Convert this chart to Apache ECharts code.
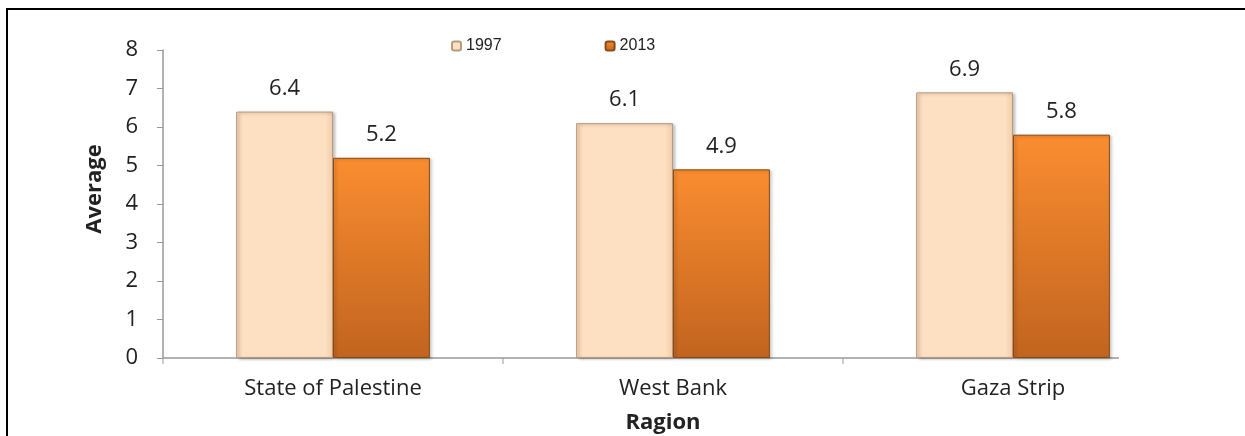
<!DOCTYPE html>
<html><head><meta charset="utf-8">
<script src="https://cdn.jsdelivr.net/npm/echarts@6/dist/echarts.min.js"></script>
<style>html,body{margin:0;padding:0;background:#fff}#c{width:1245px;height:436px}</style>
</head><body><div id="c"></div>
<script>
const categories = ['State of Palestine', 'West Bank', 'Gaza Strip'];
const seriesNames = ['1997', '2013'];
const values1997 = [6.4, 6.1, 6.9];
const values2013 = [5.2, 4.9, 5.8];
const yTicks = [0, 1, 2, 3, 4, 5, 6, 7, 8];

const chart = echarts.init(document.getElementById('c'));
const font = '"Open Sans", sans-serif';
const fs = 22;
const lbl = {show: true, position: 'top', distance: 12, fontFamily: font, fontSize: fs, color: '#222'};
chart.setOption({
  animation: false,
  legend: {
    top: 33, left: 446, itemWidth: 9, itemHeight: 9, itemGap: 103,
    textStyle: {fontFamily: 'Liberation Sans, Arial', fontSize: 16, color: '#222'},
    data: seriesNames
  },
  grid: {left: 163, right: 62, top: 50, bottom: 78, outerBoundsMode: 'none', containLabel: false},
  xAxis: {
    type: 'category', data: categories,
    name: 'Ragion', nameLocation: 'middle', nameGap: 54,
    nameTextStyle: {fontFamily: font, fontSize: fs, fontWeight: 'bold', color: '#222', padding: [0, 0, 0, -20]},
    axisLine: {show: false},
    axisTick: {show: false},
    axisLabel: {fontFamily: font, fontSize: fs, color: '#222', margin: 20}
  },
  yAxis: {
    type: 'value', min: 0, max: 8, interval: 1,
    name: 'Average', nameLocation: 'middle', nameGap: 57,
    nameTextStyle: {fontFamily: font, fontSize: fs, fontWeight: 'bold', color: '#222', padding: [0, 0, 0, 30]},
    axisLine: {show: true, lineStyle: {color: '#999', width: 1.5}},
    axisTick: {show: true, length: 6, lineStyle: {color: '#999'}},
    axisLabel: {fontFamily: font, fontSize: fs, color: '#222', margin: 25,
      formatter: v => yTicks.includes(v) ? String(v) : ''},
    splitLine: {show: false}
  },
  series: [
    {
      name: seriesNames[0], type: 'bar', data: values1997, barGap: '0%', barCategoryGap: '43%',
      itemStyle: {
        color: new echarts.graphic.LinearGradient(0, 0, 1, 0, [
          {offset: 0, color: '#F6D2B0'}, {offset: 0.08, color: '#FDE0C2'},
          {offset: 0.92, color: '#FDE0C2'}, {offset: 1, color: '#F2CBA6'}]),
        borderColor: '#B89A80', borderWidth: 1,
        shadowColor: 'rgba(0,0,0,0.25)', shadowBlur: 3, shadowOffsetX: 2, shadowOffsetY: 1
      },
      label: lbl
    },
    {
      name: seriesNames[1], type: 'bar', data: values2013,
      itemStyle: {
        color: new echarts.graphic.LinearGradient(0, 0, 0, 1, [
          {offset: 0, color: '#FA8D30'}, {offset: 1, color: '#C2641F'}]),
        borderColor: '#8A4A16', borderWidth: 1,
        shadowColor: 'rgba(0,0,0,0.25)', shadowBlur: 3, shadowOffsetX: 2, shadowOffsetY: 1
      },
      label: lbl
    }
  ],
  graphic: [
    {type: 'polyline', shape: {points: [[7, 436], [7, 9], [1245, 9]]}, style: {stroke: '#000', lineWidth: 2, fill: null}},
    {type: 'line', shape: {x1: 163, y1: 358, x2: 1119, y2: 358}, style: {stroke: '#999', lineWidth: 1.5}},
    {type: 'line', shape: {x1: 163, y1: 358, x2: 163, y2: 364}, style: {stroke: '#999', lineWidth: 1}},
    {type: 'line', shape: {x1: 503, y1: 358, x2: 503, y2: 364}, style: {stroke: '#999', lineWidth: 1}},
    {type: 'line', shape: {x1: 843, y1: 358, x2: 843, y2: 364}, style: {stroke: '#999', lineWidth: 1}}
  ]
});
</script></body></html>
